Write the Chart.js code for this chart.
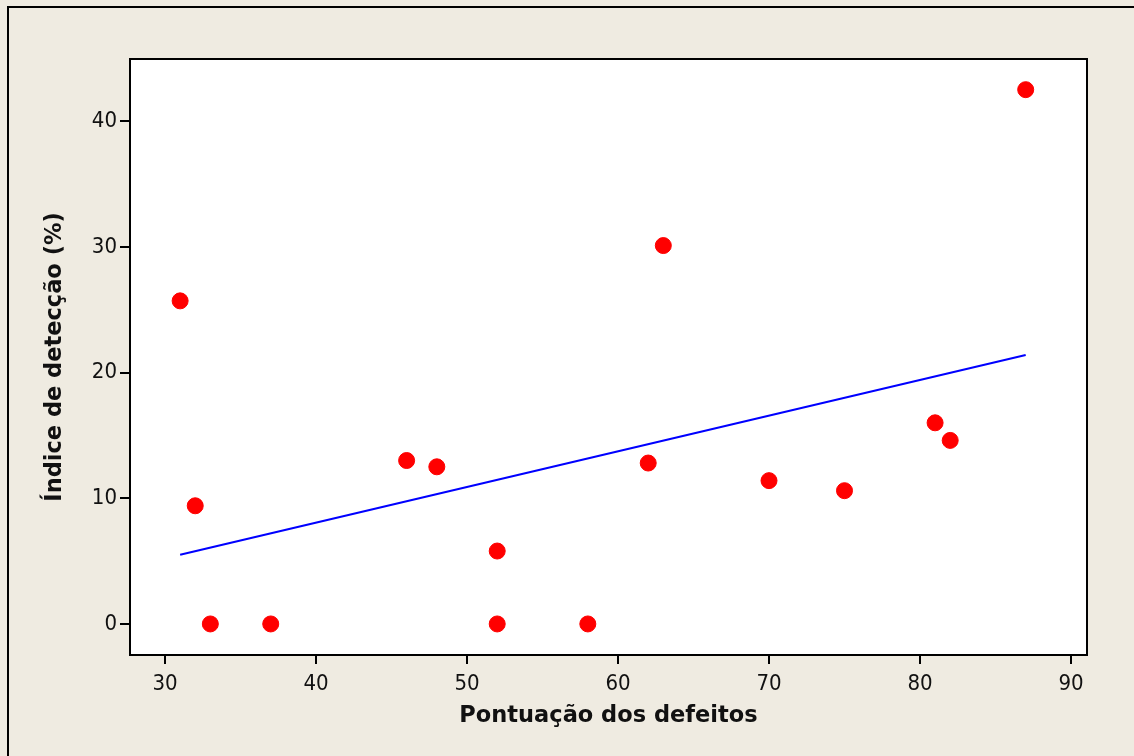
<!DOCTYPE html>
<html lang="pt">
<head>
<meta charset="UTF-8">
<title>Índice de detecção vs Pontuação dos defeitos</title>
<script src="https://cdn.jsdelivr.net/npm/chart.js@4"></script>
<style>
  html, body { margin: 0; padding: 0; background: #efebe1; }
  #wrap { width: 1134px; height: 756px; }
</style>
</head>
<body>
<div id="wrap"><canvas id="chart" width="1134" height="756"></canvas></div>
<script>
// Pontuação dos defeitos (x) e índice de detecção (y)
const pontuacao = [31, 32, 33, 37, 46, 48, 52, 52, 58, 62, 63, 70, 75, 81, 82, 87];
const indice = [25.7, 9.4, 0, 0, 13.0, 12.5, 5.8, 0, 0, 12.8, 30.1, 11.4, 10.6, 16.0, 14.6, 42.5];

// Reta ajustada (extremos)
const retaX = [31, 87];
const retaY = [5.5, 21.4];

const xTicks = [30, 40, 50, 60, 70, 80, 90];
const yTicks = [0, 10, 20, 30, 40];

const pontos = pontuacao.map((x, i) => ({ x: x, y: indice[i] }));
const reta = retaX.map((x, i) => ({ x: x, y: retaY[i] }));

// Fundo bege, moldura externa e área do gráfico branca com borda
const molduraPlugin = {
  id: 'moldura',
  beforeDraw(chart) {
    const { ctx, chartArea: a, width, height } = chart;
    ctx.save();
    ctx.fillStyle = '#efebe1';
    ctx.fillRect(0, 0, width, height);
    ctx.strokeStyle = '#000';
    ctx.lineWidth = 2;
    ctx.beginPath();
    ctx.moveTo(8, height);
    ctx.lineTo(8, 7);
    ctx.lineTo(width, 7);
    ctx.stroke();
    ctx.fillStyle = '#fff';
    ctx.fillRect(a.left, a.top, a.right - a.left, a.bottom - a.top);
    ctx.restore();
  },
  afterDatasetsDraw(chart) {
    const { ctx, chartArea: a } = chart;
    ctx.save();
    ctx.strokeStyle = '#000';
    ctx.lineWidth = 2;
    ctx.strokeRect(a.left, a.top, a.right - a.left, a.bottom - a.top);
    ctx.restore();
  }
};

const fonteTick = { family: '"DejaVu Sans Condensed", "Liberation Sans", sans-serif', size: 22 };
const fonteTitulo = { family: '"DejaVu Sans", sans-serif', size: 22.5, weight: 'bold' };

new Chart(document.getElementById('chart'), {
  type: 'scatter',
  data: {
    datasets: [
      {
        label: 'Reta',
        type: 'line',
        data: reta,
        borderColor: '#0000ff',
        borderWidth: 2,
        pointRadius: 0,
        fill: false,
        order: 2
      },
      {
        label: 'Observações',
        data: pontos,
        backgroundColor: '#ff0000',
        borderColor: '#ff0000',
        pointRadius: 8,
        pointHoverRadius: 8,
        order: 1
      }
    ]
  },
  options: {
    responsive: false,
    animation: false,
    events: [],
    layout: { padding: { left: 0, top: 59, right: 47, bottom: 0 } },
    plugins: { legend: { display: false }, tooltip: { enabled: false } },
    scales: {
      x: {
        type: 'linear',
        min: 27.68,
        max: 91.06,
        afterFit(scale) { scale.height = 101; },
        afterBuildTicks(scale) { scale.ticks = xTicks.map(v => ({ value: v })); },
        grid: { display: true, drawOnChartArea: false, drawTicks: true, tickLength: 9, color: '#000', lineWidth: 2 },
        border: { display: false },
        ticks: { color: '#111', font: fonteTick, padding: 7, maxRotation: 0 },
        title: { display: true, text: 'Pontuação dos defeitos', color: '#111', font: fonteTitulo, padding: { top: 0, bottom: 26 } }
      },
      y: {
        type: 'linear',
        min: -2.47,
        max: 44.94,
        afterFit(scale) { scale.width = 130; },
        afterBuildTicks(scale) { scale.ticks = yTicks.map(v => ({ value: v })); },
        grid: { display: true, drawOnChartArea: false, drawTicks: true, tickLength: 10, color: '#000', lineWidth: 2 },
        border: { display: false },
        ticks: { color: '#111', font: fonteTick, padding: 3 },
        title: { display: true, text: 'Índice de detecção (%)', color: '#111', font: fonteTitulo, padding: { top: 42, bottom: 0 } }
      }
    }
  },
  plugins: [molduraPlugin]
});
</script>
</body>
</html>
